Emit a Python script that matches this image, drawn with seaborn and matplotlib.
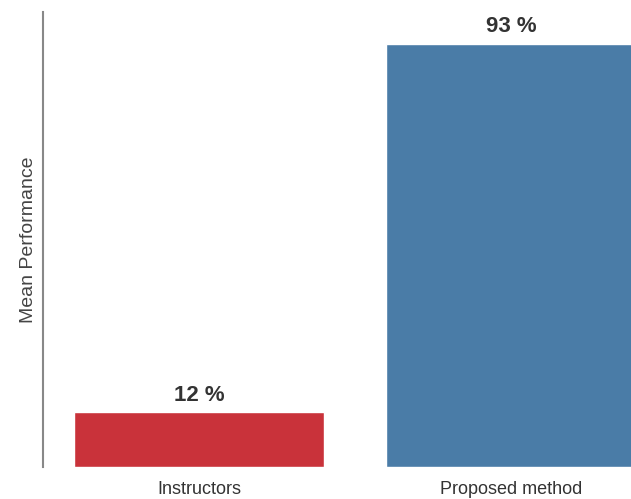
import matplotlib
matplotlib.use('Agg')
import matplotlib.pyplot as plt
import pandas as pd
import seaborn as sns

# data
methods = ['Instructors', 'Proposed method']
performance = [12, 93]
bar_colors = ['#c9323a', '#4a7ca7']

df = pd.DataFrame({'method': methods, 'performance': performance})

sns.set_theme(style='white')
plt.rcParams['font.family'] = ['Liberation Sans', 'DejaVu Sans']

fig = plt.figure(figsize=(6.31, 4.99), dpi=100)
ax = fig.add_axes([43 / 631, 1 - 467 / 499, 624 / 631, 455 / 499])

sns.barplot(data=df, x='method', y='performance', hue='method',
            palette=bar_colors, legend=False, width=0.8, saturation=1, ax=ax)

for i, v in enumerate(performance):
    ax.text(i, v + 1.4, f'{v} %', ha='center', va='bottom',
            fontsize=16, fontweight='bold', color='#333333')

ax.set_xlim(-0.5, 1.5)
ax.set_ylim(0, 100)
ax.set_yticks([])
ax.set_xlabel('')
ax.set_ylabel('Mean Performance', fontsize=14, color='#444444', labelpad=4)
ax.tick_params(axis='x', labelsize=13, colors='#333333', length=0, pad=10)

for side in ['top', 'right', 'bottom']:
    ax.spines[side].set_visible(False)
ax.spines['left'].set_color('#888888')
ax.spines['left'].set_linewidth(1.5)

fig.savefig('out.png', dpi=100)
